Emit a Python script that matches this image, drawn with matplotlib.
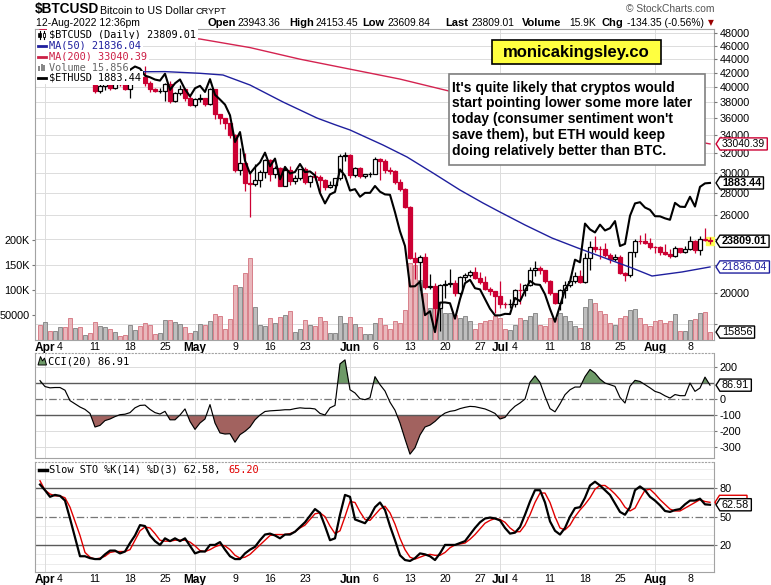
import numpy as np
import pandas as pd
import matplotlib
matplotlib.use("Agg")
import matplotlib.pyplot as plt
from matplotlib.lines import Line2D
from matplotlib.patches import Rectangle, Polygon
from matplotlib.path import Path

plt.rcParams['font.family'] = ['Liberation Sans', 'DejaVu Sans']
MONO = ['DejaVu Sans Mono', 'DejaVu Sans']

# ---------------------------------------------------------------- data
start_date = "2022-03-31"

btc_open = [47063, 45538, 46281, 45868, 46453, 46622, 45555, 43207, 43503, 42287,
            42782, 42208, 39521, 40128, 41166, 39936, 40553, 40424, 39716, 40827,
            41502, 41374, 40527, 39741, 39486, 39520, 40458, 38118, 39241, 39774,
            38610, 37714, 38470, 38529, 37750, 39698, 36575, 36040, 35501, 34059,
            30296, 31022, 28936, 28910, 29283, 30101, 31305, 29863, 30425, 28720,
            30315, 29200, 29430, 30323, 29098, 29655, 29562, 29267, 28627, 28814,
            29445, 31726, 31792, 29800, 30467, 29705, 29833, 29906, 31371, 31155,
            30215, 30112, 29083, 28360, 26762, 22487, 22206, 22573, 20381, 20471,
            19017, 20553, 20600, 20710, 19988, 21086, 21231, 21502, 21028, 20736,
            20281, 20104, 19785, 19270, 19243, 19298, 20232, 20190, 20548, 21637,
            21731, 21592, 20861, 19970, 19323, 20212, 20569, 20836, 21190, 20779,
            22485, 23389, 23231, 23164, 22714, 22465, 22609, 21361, 21239, 22930,
            23843, 23804, 23656, 23336, 23314, 22978, 22846, 22630, 23289, 22961,
            23175, 23810, 23149, 23954, 23943.36]
btc_high = [47600, 46700, 47200, 47400, 46900, 47200, 45500, 43900, 43900, 42800,
            43400, 42400, 40700, 41500, 41500, 40900, 40700, 40600, 41000, 41700,
            42100, 42900, 40800, 39900, 39900, 40600, 40800, 39400, 40300, 39900,
            38800, 38600, 39100, 38600, 39900, 39800, 36600, 36100, 35500, 34200,
            32600, 32100, 30000, 30900, 30300, 31400, 31400, 30700, 30600, 30500,
            30700, 29800, 30400, 30600, 29800, 30200, 29800, 29400, 29200, 29500,
            31900, 32200, 31900, 30600, 30600, 29900, 30100, 31600, 31500, 31400,
            30600, 30300, 29400, 28500, 26800, 23000, 22700, 22900, 21300, 20700,
            20600, 20900, 21700, 20900, 21200, 21400, 21600, 21800, 21500, 21200,
            20400, 20100, 20800, 19400, 19600, 20300, 20700, 20600, 21800, 22300,
            21900, 21600, 20900, 20000, 20300, 20800, 21200, 21500, 21600, 22900,
            23800, 24200, 23400, 23700, 22900, 22800, 22700, 21500, 23000, 24000,
            24300, 24500, 24100, 23400, 23400, 23600, 23200, 23400, 23300, 23400,
            24200, 23900, 24200, 24900, 24153.45]
btc_low = [45200, 44200, 45600, 45500, 45100, 45400, 43100, 42700, 42100, 42100,
           42100, 39200, 39200, 39600, 39600, 39800, 40200, 39600, 38600, 40600,
           40900, 40100, 39300, 39300, 39200, 38200, 37900, 38000, 38900, 38200,
           37600, 37400, 38100, 37500, 37700, 35900, 35300, 34800, 33700, 30100,
           29800, 28200, 25800, 28700, 28600, 29500, 29200, 29500, 28700, 28700,
           28800, 28900, 29300, 28900, 28600, 29300, 28100, 28300, 28500, 28600,
           29300, 31200, 29500, 29600, 29500, 29500, 29600, 29900, 29300, 30000,
           29900, 28900, 28200, 26600, 22400, 21000, 20200, 20300, 20300, 17700,
           17600, 19700, 20400, 19800, 19900, 20800, 21100, 21000, 20600, 20200,
           19900, 18700, 19000, 19000, 19000, 19100, 19300, 19800, 20500, 21200,
           21300, 20700, 19900, 19300, 18900, 19700, 20400, 20700, 20700, 20700,
           21600, 23000, 22400, 22600, 22100, 22300, 21300, 20800, 21100, 22600,
           23600, 23600, 23200, 22900, 22700, 22700, 22500, 22600, 22900, 22900,
           23100, 22900, 22700, 23800, 23609.84]
btc_close = [45538, 46281, 45868, 46453, 46622, 45555, 43207, 43503, 42287, 42782,
             42208, 39521, 40128, 41166, 39936, 40553, 40424, 39716, 40827, 41502,
             41374, 40527, 39741, 39486, 39520, 40458, 38118, 39241, 39774, 38610,
             37714, 38470, 38529, 37750, 39698, 36575, 36040, 35501, 34059, 30296,
             31022, 28936, 28910, 29283, 30101, 31305, 29863, 30425, 28720, 30315,
             29200, 29430, 30323, 29098, 29655, 29562, 29267, 28627, 28814, 29445,
             31726, 31792, 29800, 30467, 29705, 29833, 29906, 31371, 31155, 30215,
             30112, 29083, 28360, 26762, 22487, 22206, 22573, 20381, 20471, 19017,
             20553, 20600, 20710, 19988, 21086, 21231, 21502, 21028, 20736, 20281,
             20104, 19785, 19270, 19243, 19298, 20232, 20190, 20548, 21637, 21731,
             21592, 20861, 19970, 19323, 20212, 20569, 20836, 21190, 20779, 22485,
             23389, 23231, 23164, 22714, 22465, 22609, 21361, 21239, 22930, 23843,
             23804, 23656, 23336, 23314, 22978, 22846, 22630, 23289, 22961, 23175,
             23810, 23149, 23954, 23934, 23809.01]
btc_volume = [29400, 35300, 17300, 17300, 25300, 25300, 43300, 23300, 25300, 10000,
              13300, 35300, 28000, 25300, 21300, 15300, 7300, 9300, 29400, 19300,
              28000, 33300, 29400, 12000, 13300, 39300, 39300, 35300, 31300, 25300,
              13300, 17300, 31300, 29400, 37300, 51300, 48000, 21300, 41300, 109300,
              105300, 133300, 163300, 65300, 29400, 28000, 43300, 33300, 45300, 49300,
              57300, 15300, 21300, 39300, 29400, 27300, 45300, 37300, 13300, 13300,
              47300, 33300, 45300, 31300, 25300, 11300, 12000, 35000, 45000, 30000,
              22000, 38000, 35000, 60000, 155000, 150000, 121000, 95000, 65000, 85000,
              70000, 55000, 55000, 50000, 45000, 48000, 38000, 22000, 35000, 38000,
              40000, 48000, 45000, 22000, 20000, 30000, 45000, 40000, 48000, 55000,
              30000, 28000, 45000, 45000, 55000, 48000, 38000, 28000, 25000, 66000,
              82000, 74000, 58000, 52000, 35000, 30000, 45000, 48000, 60000, 62000,
              45000, 32000, 28000, 38000, 40000, 35000, 38000, 52000, 18000, 18000,
              40000, 42000, 54000, 56000, 15856]
eth_close = [3282, 3453, 3444, 3522, 3521, 3410, 3170, 3232, 3190, 3262,
             3211, 2982, 3030, 3118, 3020, 3041, 3060, 2990, 3060, 3104,
             3077, 2985, 2964, 2935, 2922, 3009, 2808, 2888, 2936, 2815,
             2730, 2827, 2857, 2783, 2940, 2749, 2694, 2636, 2518, 2245,
             2343, 2072, 1961, 2014, 2057, 2145, 2023, 2091, 1913, 2018,
             1961, 1974, 2043, 1973, 1979, 1945, 1804, 1725, 1793, 1812,
             1996, 1942, 1823, 1834, 1775, 1805, 1805, 1859, 1814, 1793,
             1790, 1661, 1530, 1437, 1208, 1209, 1233, 1068, 1086, 993,
             1127, 1128, 1124, 1052, 1144, 1225, 1243, 1199, 1193, 1144,
             1098, 1067, 1067, 1074, 1073, 1150, 1134, 1186, 1237, 1219,
             1216, 1168, 1097, 1038, 1112, 1191, 1233, 1355, 1340, 1582,
             1543, 1523, 1575, 1536, 1551, 1599, 1437, 1450, 1636, 1725,
             1734, 1695, 1678, 1633, 1632, 1618, 1608, 1729, 1701, 1699,
             1775, 1702, 1852, 1880, 1883.44]
ma50_day = [0, 7, 14.6, 25, 32, 36.6, 42, 48.6, 55.4, 59, 62, 68.6, 73.4, 78.6,
            84, 88.6, 92, 97, 102.4, 107.6, 113, 118.4, 122.4, 128.4, 134]
ma50_val = [41000, 41600, 42100, 42150, 41910, 41670, 40290, 38050, 36050, 35250,
            34630, 32920, 31620, 29960, 28290, 27080, 26270, 25150, 24070, 23270,
            22500, 21760, 21180, 21470, 21836.04]
ma200_day = [0, 16, 32, 42, 52, 62, 72, 82, 92, 102, 112, 122, 134]
ma200_val = [48600, 47800, 47040, 45700, 43950, 42500, 41100, 39450, 37900, 36600,
             35400, 34300, 33040.39]
cci20 = [115, 78, 70, 72, 72, 55, -10, -30, -50, -65,
         -90, -175, -165, -135, -125, -110, -98, -95, -85, -55,
         -40, -38, -65, -85, -94, -77, -130, -130, -100, -62,
         -140, -190, -150, -125, -35, -150, -212, -219, -217, -270,
         -223, -202, -175, -130, -100, -78, -74, -72, -70, -67,
         -67, -60, -55, -58, -58, -62, -90, -100, -55, -40,
         220, 245, 58, 38, 2, -4, 8, 140, 90, 50,
         -20, -70, -150, -250, -345, -305, -225, -175, -163, -140,
         -110, -88, -77, -72, -60, -52, -46, -48, -55, -62,
         -75, -90, -125, -115, -75, -45, -25, 0, 105, 145,
         104, 17, -60, -80, -30, 27, 58, 75, 75, 140,
         185, 162, 125, 100, 90, 79, 10, -25, 80, 117,
         110, 90, 70, 48, 38, 20, 6, 28, 21, 21,
         100, 48, 69, 137, 86.91]
sto_k = [84, 78, 71, 73, 72, 67, 48, 28, 8, 8,
         6, 5, 5, 10, 14, 14, 11, 13, 22, 30,
         41, 40, 30, 24, 20, 27, 24, 27, 24, 27,
         19, 11, 13, 13, 20, 20, 23, 15, 8, 5,
         5, 11, 15, 18, 25, 31, 32, 30, 27, 31,
         31, 34, 39, 44, 51, 58, 54, 40, 25, 27,
         52, 73, 71, 47, 45, 43, 50, 60, 65, 57,
         40, 25, 9, 4, 3, 6, 11, 10, 8, 4,
         11, 20, 20, 20, 22, 24, 31, 38, 44, 48,
         49, 48, 46, 38, 32, 33, 39, 52, 66, 78,
         78, 65, 45, 35, 31, 38, 50, 59, 60, 70,
         83, 87, 83, 78, 73, 64, 55, 52, 60, 78,
         82, 78, 71, 67, 62, 56, 55, 57, 58, 63,
         67, 67, 69, 63, 62.58]
sto_d = [88, 78, 74, 72, 72, 70, 60, 45, 30, 12,
         7, 5, 6, 8, 12, 13, 13, 13, 15, 25,
         35, 39, 38, 32, 25, 24, 24, 25, 25, 25,
         23, 19, 14, 13, 15, 18, 20, 19, 15, 9,
         6, 7, 10, 15, 20, 25, 30, 31, 31, 31,
         32, 34, 38, 41, 47, 53, 54, 50, 40, 32,
         35, 50, 66, 65, 55, 47, 46, 52, 58, 61,
         54, 42, 27, 15, 7, 5, 7, 9, 10, 9,
         9, 12, 17, 20, 21, 22, 26, 31, 37, 43,
         46, 48, 47, 44, 38, 34, 34, 41, 52, 65,
         75, 75, 65, 50, 38, 36, 41, 50, 57, 63,
         70, 79, 83, 83, 79, 74, 68, 60, 56, 59,
         69, 78, 79, 74, 68, 63, 58, 56, 56, 59,
         62, 65, 68, 66, 65.20]

price_ticks = [18000, 20000, 22000, 24000, 26000, 28000, 30000, 32000, 34000,
               36000, 38000, 40000, 42000, 44000, 46000, 48000]
price_tick_labels = ['', '20000', '', '', '26000', '28000', '30000', '32000', '34000',
                     '36000', '38000', '40000', '42000', '44000', '46000', '48000']
vol_ticks = [50000, 100000, 150000, 200000]
vol_tick_labels = ['50000', '100K', '150K', '200K']
cci_ticks = [200, 0, -100, -200, -300]
sto_ticks = [80, 50, 20]

note_lines = ["It's quite likely that cryptos would",
              "start pointing lower some more later",
              "today (consumer sentiment won't",
              "save them), but ETH would keep",
              "doing relatively better than BTC."]

# ---------------------------------------------------------------- helpers
W, H = 771, 585
fig = plt.figure(figsize=(W / 100, H / 100), dpi=100)
fig.patch.set_facecolor('white')


def ftext(x, y, s, **kw):
    kw.setdefault('va', 'baseline')
    return fig.text(x / W, 1 - y / H, s, **kw)


def fline(xs, ys, **kw):
    fig.add_artist(Line2D([q / W for q in xs], [1 - q / H for q in ys],
                          transform=fig.transFigure, **kw))


def frect(x0, y0, x1, y1, **kw):
    fig.add_artist(Rectangle((x0 / W, 1 - y1 / H), (x1 - x0) / W, (y1 - y0) / H,
                             transform=fig.transFigure, **kw))


def box_axes(lft, top, rgt, bot):
    return fig.add_axes([lft / W, 1 - bot / H, (rgt - lft) / W, (bot - top) / H])


def flag_shape(x0, y0, width, height, mutation_size):
    pad = 0.1 * mutation_size
    xl, xr = x0 - pad - 1, x0 + width + pad + 1
    yb, yt = y0 - pad, y0 + height + pad
    tip = 0.32 * (yt - yb)
    ym = (yb + yt) / 2
    verts = [(xl - tip, ym), (xl, yt), (xr, yt), (xr, yb), (xl, yb), (xl - tip, ym)]
    codes = [Path.MOVETO] + [Path.LINETO] * 4 + [Path.CLOSEPOLY]
    return Path(verts, codes)


def flag(ax, yval, label, edge, color='black', bold=False, dx=8, dy=0, size=7.8):
    ax.annotate(label, xy=(1.0, yval), xycoords=ax.get_yaxis_transform(),
                xytext=(dx, dy), textcoords='offset pixels', ha='left', va='center',
                fontsize=size, fontweight='bold' if bold else 'normal', color=color,
                bbox=dict(boxstyle=flag_shape, fc='white', ec=edge, lw=1.0),
                annotation_clip=False, zorder=20)


SPINE = '#a3a3a3'
GRID = '#dcdcdc'
RED = '#cc0033'
XL = (-1.0, 134.8)

o = np.array(btc_open, float)
h = np.array(btc_high, float)
l = np.array(btc_low, float)
c = np.array(btc_close, float)
v = np.array(btc_volume, float)
dates = pd.date_range(start_date, periods=len(c), freq='D')
x = np.arange(len(dates))

month_pos = [i for i, d in enumerate(dates) if d.day == 1]
tick_pos, tick_lbl, tick_bold = [], [], []
for i, d in enumerate(dates):
    if d.day == 1:
        tick_pos.append(i); tick_lbl.append(d.strftime('%b')); tick_bold.append(True)
    elif d.weekday() == 0 and min(abs(i - m) for m in month_pos) > 2:
        tick_pos.append(i); tick_lbl.append(str(d.day)); tick_bold.append(False)


def style_date_ticks(ax, show):
    ax.set_xticks(tick_pos)
    if show:
        ax.set_xticklabels(tick_lbl)
        for t, b in zip(ax.get_xticklabels(), tick_bold):
            if b:
                t.set_fontweight('bold'); t.set_fontsize(8.6)
            else:
                t.set_fontsize(7.6)
    else:
        ax.set_xticklabels([])
    ax.tick_params(axis='x', length=0, pad=1.5)


def style_spines(ax, dotted_top=False):
    for s in ax.spines.values():
        s.set_color(SPINE); s.set_linewidth(0.8)
    if dotted_top:
        ax.spines['top'].set_linestyle((0, (1, 2)))


# ---------------------------------------------------------------- main panel
ax_v = box_axes(35, 29, 714, 340)
ax_p = ax_v.twinx()
ax_e = ax_v.twinx()
for a in (ax_p, ax_e):
    a.patch.set_visible(False)
    for s in a.spines.values():
        s.set_visible(False)
style_spines(ax_v)

ax_p.set_yscale('log')
ax_e.set_yscale('log')

for pv in price_ticks:
    ax_v.add_line(Line2D(XL, [pv, pv], transform=ax_p.transData, color=GRID, lw=0.7, zorder=0.5))
for m in month_pos:
    ax_v.axvline(m, color=GRID, lw=0.7, zorder=0.5)

prev_close = np.r_[o[0], c[:-1]]
up = c >= prev_close
vol_face = [(0.66, 0.66, 0.66, 0.75) if u else (0.886, 0.624, 0.651, 0.75) for u in up]
vol_edge = ['#8c8c8c' if u else '#d8808a' for u in up]
ax_v.bar(x, v, width=0.92, color=vol_face, edgecolor=vol_edge, linewidth=0.7, zorder=2)
ax_v.set_ylim(0, 622000)
ax_v.set_yticks(vol_ticks)
ax_v.set_yticklabels(vol_tick_labels)
ax_v.tick_params(axis='y', direction='out', length=2.5, pad=1.5, labelsize=7.8, color='#777')
style_date_ticks(ax_v, True)

ax_p.plot([x[-1]], [c[-1]], marker='s', ms=5.5, mfc='#ffff55', mec='#ffff55', zorder=2.5)

bull = c >= o
edge_col = [('black' if cc >= pc else RED) if b else (RED if cc < pc else 'black')
            for b, cc, pc in zip(bull, c, prev_close)]
face_col = ['white' if b else ec for b, ec in zip(bull, edge_col)]
ax_p.vlines(x, l, h, colors=edge_col, lw=0.9, zorder=3)
body_lo = np.minimum(o, c)
body_hi = np.maximum(np.maximum(o, c), body_lo * 1.0015)
ax_p.bar(x, body_hi - body_lo, bottom=body_lo, width=0.72, color=face_col,
         edgecolor=edge_col, linewidth=0.9, zorder=4)

ax_p.plot(ma50_day, ma50_val, color='#1f1f9e', lw=1.0, zorder=5)
ax_p.plot(ma200_day, ma200_val, color='#d42350', lw=1.0, zorder=5)
ax_p.set_ylim(17075, 48651)
ax_p.set_yticks(price_ticks)
ax_p.set_yticklabels(price_tick_labels)
ax_p.yaxis.set_minor_locator(matplotlib.ticker.NullLocator())
ax_p.tick_params(axis='y', which='both', direction='out', length=2, pad=2, labelsize=7.8, color='#777')

ax_e.plot(x, eth_close, color='black', lw=1.5, zorder=6)
ax_e.set_ylim(960, 3646)
ax_e.set_yticks([])
ax_e.yaxis.set_minor_locator(matplotlib.ticker.NullLocator())
ax_e.tick_params(axis='y', which='both', length=0, labelright=False)

for a in (ax_v, ax_p, ax_e):
    a.set_xlim(*XL)

flag(ax_p, ma200_val[-1], '%.2f' % ma200_val[-1], edge=RED, size=7.5)
flag(ax_e, eth_close[-1], '%.2f' % eth_close[-1], edge='black', bold=True)
flag(ax_p, c[-1], '%.2f' % c[-1], edge='black', bold=True)
flag(ax_p, ma50_val[-1], '%.2f' % ma50_val[-1], edge='#1f1f9e', color='#1f1f9e')
flag(ax_v, v[-1], '%d' % v[-1], edge='black')

# ---------------------------------------------------------------- CCI panel
ax_c = box_axes(35, 353, 714, 458)
style_spines(ax_c, dotted_top=True)
cci = np.array(cci20, float)
for g in (200, -200, -300):
    ax_c.axhline(g, color=GRID, lw=0.7, zorder=0.5)
for m in month_pos:
    ax_c.axvline(m, color=GRID, lw=0.7, zorder=0.5)
ax_c.fill_between(x, cci, 100, where=cci > 100, interpolate=True, color='#6e9a68', lw=0, zorder=1)
ax_c.fill_between(x, cci, -100, where=cci < -100, interpolate=True, color='#a2625f', lw=0, zorder=1)
ax_c.axhline(100, color='#5a5a5a', lw=1.0, zorder=2)
ax_c.axhline(-100, color='#5a5a5a', lw=1.0, zorder=2)
ax_c.axhline(0, color='#777777', lw=0.9, ls=(0, (6, 2, 1, 2)), zorder=2)
ax_c.plot(x, cci, color='black', lw=0.85, zorder=3)
ax_c.set_xlim(*XL)
ax_c.set_ylim(-369, 288)
ax_c.yaxis.tick_right()
ax_c.set_yticks(cci_ticks)
ax_c.set_yticklabels([str(t) for t in cci_ticks])
ax_c.tick_params(axis='y', direction='out', length=2, pad=2, labelsize=7.8, color='#777')
style_date_ticks(ax_c, False)
flag(ax_c, cci[-1], '%.2f' % cci[-1], edge='black')

# ---------------------------------------------------------------- STO panel
ax_s = box_axes(35, 462, 714, 572)
style_spines(ax_s, dotted_top=True)
for g in (0, 10, 30, 40, 60, 70, 90, 100):
    ax_s.axhline(g, color='#ececec', lw=0.7, zorder=0.5)
for m in month_pos:
    ax_s.axvline(m, color=GRID, lw=0.7, zorder=0.5)
ax_s.axhline(80, color='#5a5a5a', lw=1.0, zorder=2)
ax_s.axhline(20, color='#5a5a5a', lw=1.0, zorder=2)
ax_s.axhline(50, color='#777777', lw=0.9, ls=(0, (6, 2, 1, 2)), zorder=2)
ax_s.plot(x, sto_d, color='#e00000', lw=1.0, zorder=3)
ax_s.plot(x, sto_k, color='black', lw=1.6, zorder=4)
ax_s.set_xlim(*XL)
ax_s.set_ylim(-8.7, 107.9)
ax_s.yaxis.tick_right()
ax_s.set_yticks(sto_ticks)
ax_s.set_yticklabels([str(t) for t in sto_ticks])
ax_s.tick_params(axis='y', direction='out', length=2, pad=2, labelsize=7.8, color='#777')
style_date_ticks(ax_s, True)
# red %D flag peeking out behind the %K flag (drawn as a shape only)
ppx = 1.0 / 679.0
pdu = 1.0 / 0.943
dval = sto_d[-1]
ax_s.add_patch(Polygon([(1 + 1 * ppx, dval), (1 + 5.5 * ppx, dval + 7 * pdu),
                        (1 + 33 * ppx, dval + 7 * pdu), (1 + 33 * ppx, dval - 7 * pdu),
                        (1 + 5.5 * ppx, dval - 7 * pdu)], closed=True,
                       transform=ax_s.get_yaxis_transform(), facecolor='white',
                       edgecolor='#e00000', lw=1.0, clip_on=False, zorder=19))
flag(ax_s, sto_k[-1], '%.2f' % sto_k[-1], edge='black')

# ---------------------------------------------------------------- header
ftext(35, 13.5, '$BTCUSD', fontsize=9.8, fontweight='bold')
ftext(100, 13.5, 'Bitcoin to US Dollar', fontsize=7.7)
ftext(196, 13.5, 'CRYPT', fontsize=6.6)
ftext(714, 12.5, '\u00a9 StockCharts.com', fontsize=7.4, color='#555555', ha='right')
ftext(36, 25.5, '12-Aug-2022 12:36pm', fontsize=7.5)
line2 = [(207, 'Open', True), (238, '23943.36', False), (289, 'High', True),
         (315, '24153.45', False), (362, 'Low', True), (388, '23609.84', False),
         (445, 'Last', True), (471, '23809.01', False), (522, 'Volume', True),
         (569, '15.9K', False), (602, 'Chg', True), (627, '-134.35 (-0.56%)', False)]
for px, s, b in line2:
    ftext(px, 25.5, s, fontsize=8.0 if b else 7.4, fontweight='bold' if b else 'normal')
ftext(711, 25.5, '\u25bc', fontsize=5.5, color='#990000', ha='center', family=['DejaVu Sans'])

# ---------------------------------------------------------------- legends
frect(35.6, 29.6, 48, 84, facecolor='white', edgecolor='none', zorder=1.5)
leg_rows = [(35, '$BTCUSD (Daily) %.2f' % c[-1], 'black'),
            (45.5, 'MA(50) %.2f' % ma50_val[-1], '#1f1f9e'),
            (56.5, 'MA(200) %.2f' % ma200_val[-1], '#cc1f45'),
            (67.5, 'Volume {:,}'.format(int(v[-1])), '#666666'),
            (78, '$ETHUSD %.2f' % eth_close[-1], 'black')]
for yy, s, col in leg_rows:
    ftext(49, yy, s, fontsize=7.4, color=col, va='center', family=MONO,
          bbox=dict(facecolor='white', edgecolor='none', pad=1.2), zorder=3)
fline([39.5, 39.5], [31, 39], color='black', lw=0.8, zorder=4)
frect(38.3, 33, 40.7, 37, facecolor='black', edgecolor='black', lw=0.5, zorder=4)
fline([44, 44], [31, 39], color='black', lw=0.8, zorder=4)
frect(42.8, 32.5, 45.2, 36.5, facecolor='white', edgecolor='black', lw=0.6, zorder=4)
fline([38, 46], [45.5, 45.5], color='#1f1f9e', lw=2, zorder=4)
fline([38, 46], [56.5, 56.5], color='#cc1f45', lw=2, zorder=4)
for bx, bt in ((38.3, 66), (40.8, 63.5), (43.3, 65)):
    frect(bx, bt, bx + 2, 71, facecolor='#888888', edgecolor='none', zorder=4)
fline([38, 46], [78, 78], color='black', lw=2, zorder=4)

ftext(48, 361, 'CCI(20) %.2f' % cci[-1], fontsize=7.5, va='center', family=MONO,
      bbox=dict(facecolor='white', edgecolor='none', pad=1.0), zorder=3)
fig.add_artist(Polygon([(38 / W, 1 - 365 / H), (40.5 / W, 1 - 356.5 / H), (42.5 / W, 1 - 361 / H),
                        (44.5 / W, 1 - 358 / H), (46.5 / W, 1 - 365 / H)], closed=True,
                       transform=fig.transFigure, facecolor='#6e9a68', edgecolor='black',
                       lw=0.7, zorder=4))
ftext(49, 470, 'Slow STO %%K(14) %%D(3) %.2f, ' % sto_k[-1], fontsize=7.4, va='center',
      family=MONO, bbox=dict(facecolor='white', edgecolor='none', pad=1.0), zorder=3)
ftext(49 + 6.17 * 29, 470, '%.2f' % sto_d[-1], fontsize=7.4, va='center', family=MONO,
      color='#e00000', zorder=3)
fline([38.5, 46.5], [470, 470], color='black', lw=2.5, zorder=4)

# ---------------------------------------------------------------- annotations
frect(492, 40, 661, 64, facecolor='#ffff40', edgecolor='black', lw=1.2, zorder=1.5)
ftext(576.5, 52.5, 'monicakingsley.co', fontsize=12, fontweight='bold', ha='center',
      va='center', zorder=3)
frect(449, 74, 705, 165, facecolor='white', edgecolor='#808080', lw=1.2, zorder=1.5)
for k, s in enumerate(note_lines):
    ftext(452, 91.7 + 15.8 * k, s, fontsize=10, fontweight='bold', zorder=3)

fig.savefig('out.png', dpi=100)
